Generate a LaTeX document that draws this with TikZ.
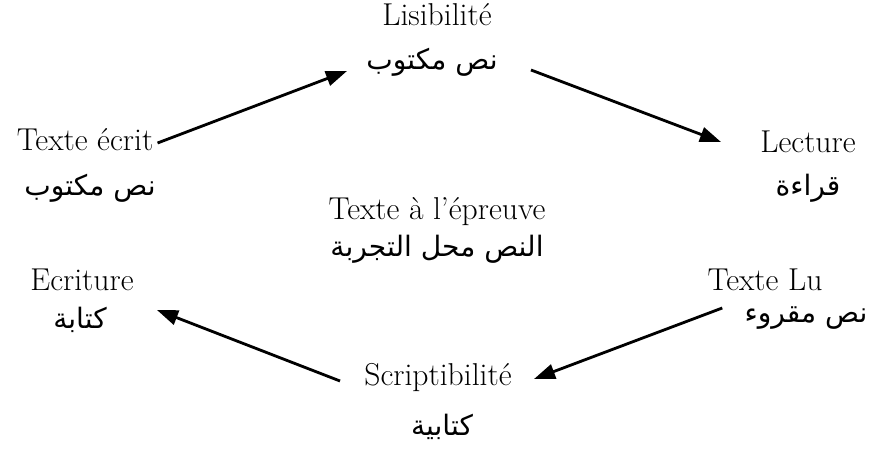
\documentclass[tikz,border=0pt]{standalone}
\usepackage{fontspec}
\newfontfamily\arabicfont[Script=Arabic]{DejaVu Sans}
\TeXXeTstate=1
\usetikzlibrary{arrows.meta,calc}

\begin{document}
\begin{tikzpicture}[x=0.02cm,y=-0.02cm,fr/.style={font=\fontsize{18}{21}\selectfont,inner sep=0pt},ar/.style={font=\arabicfont\fontsize{16}{19}\selectfont,inner sep=0pt},link/.style={-{Triangle[length=12pt,width=8.5pt]},line width=1.6pt}]
\useasboundingbox (0,0) rectangle (874,449);

% haut
\node[fr] (lis) at (437,15) {Lisibilité};
\node[ar] (lisA) at (432,62) {\beginR نص مكتوب\endR};

% gauche
\node[fr] (ecrit) at (85,140) {Texte écrit};
\node[ar] (ecritA) at (90,188) {\beginR نص مكتوب\endR};
\node[fr] (ecr) at (82,280) {Ecriture};
\node[ar] (ecrA) at (80,320) {\beginR كتابة\endR};

% droite
\node[fr] (lec) at (808,142) {Lecture};
\node[ar] (lecA) at (808,188) {\beginR قراءة\endR};
\node[fr] (lu) at (765,280) {Texte Lu};
\node[ar] (luA) at (806,318) {\beginR نص مقروء\endR};

% centre
\node[fr] (epr) at (437,212) {Texte à l’épreuve};
\node[ar] (eprA) at (437,249) {\beginR النص محل التجربة\endR};

% bas
\node[fr] (scr) at (438,378) {Scriptibilité};
\node[ar] (scrA) at (442,427) {\beginR كتابية\endR};

\draw[link] ($(ecrit.east)+(4,3)$) -- ($(lisA.west)+(-19,9)$);
\draw[link] ($(lisA.east)+(33,8)$) -- ($(lec.west)+(-39,0)$);
\draw[link] ($(luA.west)+(-22,-10)$) -- ($(scr.east)+(22,1)$);
\draw[link] ($(scr.west)+(-24,3)$) -- ($(ecr.east)+(23,30)$);
\end{tikzpicture}
\end{document}
